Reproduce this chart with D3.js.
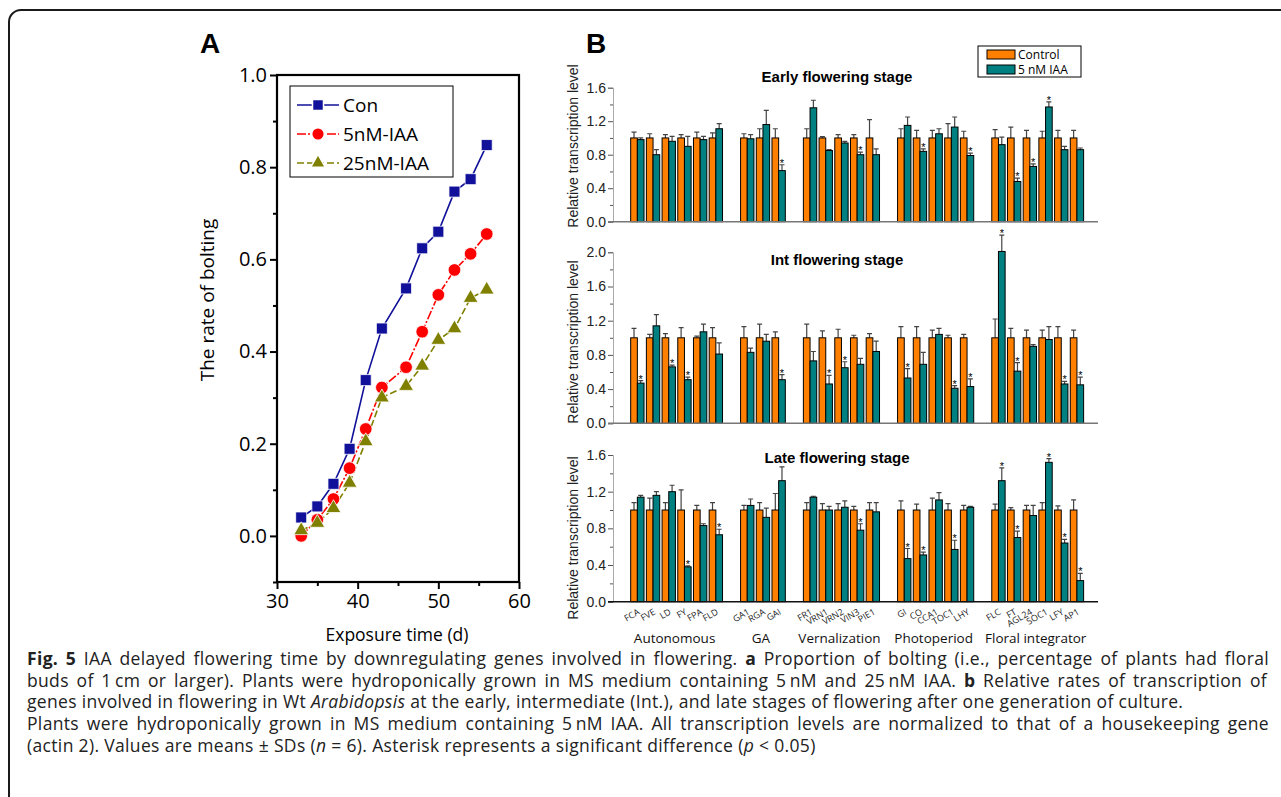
<!DOCTYPE html>
<html>
<head>
<meta charset="utf-8">
<script src="https://cdn.jsdelivr.net/npm/d3@7"></script>
<style>
body { margin: 0; background: #fff; }
svg { display: block; }
</style>
</head>
<body>
<svg id="canvas" width="1281" height="797"></svg>
<script>
// ---- Panel A: rate of bolting ----
const days = [33, 35, 37, 39, 41, 43, 46, 48, 50, 52, 54, 56];
const boltCon = [0.04, 0.064, 0.113, 0.189, 0.338, 0.45, 0.537, 0.624, 0.66, 0.747, 0.774, 0.848];
const bolt5nM = [0.0, 0.035, 0.08, 0.147, 0.232, 0.322, 0.366, 0.443, 0.523, 0.577, 0.612, 0.655];
const bolt25nM = [0.012, 0.028, 0.06, 0.115, 0.205, 0.30, 0.325, 0.369, 0.425, 0.45, 0.516, 0.534];
const seriesNames = ["Con", "5nM-IAA", "25nM-IAA"];

// ---- Panel B: relative transcription ----
const genes = ["FCA", "FVE", "LD", "FY", "FPA", "FLD",
    "GA1", "RGA", "GAI",
    "FR1", "VRN1", "VRN2", "VIN3", "PIE1",
    "GI", "CO", "CCA1", "TOC1", "LHY",
    "FLC", "FT", "AGL24", "SOC1", "LFY", "AP1"];
const pathways = ["Autonomous", "GA", "Vernalization", "Photoperiod", "Floral integrator"];
const pathwayOf = [0, 0, 0, 0, 0, 0, 1, 1, 1, 2, 2, 2, 2, 2, 3, 3, 3, 3, 3, 4, 4, 4, 4, 4, 4];
const stageNames = ["Early flowering stage", "Int flowering stage", "Late flowering stage"];
const legendB = ["Control", "5 nM IAA"];

const earlyIAA = [0.98, 0.80, 0.96, 0.90, 0.98, 1.11, 0.99, 1.16, 0.61, 1.36, 0.85, 0.94, 0.80, 0.80,
    1.15, 0.84, 1.05, 1.13, 0.79, 0.92, 0.48, 0.66, 1.37, 0.86, 0.86];
const earlyIAAErr = [0.02, 0.06, 0.06, 0.12, 0.04, 0.06, 0.05, 0.17, 0.07, 0.09, 0.01, 0.02, 0.03, 0.07,
    0.10, 0.03, 0.06, 0.12, 0.03, 0.09, 0.04, 0.03, 0.06, 0.04, 0.02];
const earlyConErr = [0.07, 0.05, 0.04, 0.04, 0.07, 0.06, 0.05, 0.11, 0.11, 0.11, 0.015, 0.04, 0.04, 0.22,
    0.11, 0.09, 0.09, 0.17, 0.08, 0.10, 0.13, 0.09, 0.08, 0.09, 0.09];
const earlyStar = ["GAI", "VIN3", "CO", "LHY", "FT", "AGL24", "SOC1"];

const intIAA = [0.47, 1.14, 0.66, 0.51, 1.07, 0.81, 0.83, 0.96, 0.51, 0.73, 0.46, 0.65, 0.69, 0.84,
    0.53, 0.69, 1.04, 0.41, 0.43, 2.01, 0.61, 0.90, 0.98, 0.46, 0.45];
const intIAAErr = [0.03, 0.13, 0.02, 0.03, 0.09, 0.13, 0.05, 0.08, 0.06, 0.11, 0.10, 0.07, 0.07, 0.12,
    0.11, 0.14, 0.07, 0.03, 0.09, 0.19, 0.10, 0.02, 0.15, 0.03, 0.09];
const intConErr = [0.11, 0.04, 0.05, 0.12, 0.02, 0.12, 0.13, 0.16, 0.07, 0.16, 0.08, 0.10, 0.03, 0.05,
    0.13, 0.13, 0.09, 0.03, 0.04, 0.22, 0.11, 0.09, 0.09, 0.13, 0.09];
const intStar = ["FCA", "LD", "FY", "GAI", "VRN1", "VRN2", "GI", "TOC1", "LHY", "FLC", "FT", "LFY", "AP1"];

const lateIAA = [1.14, 1.16, 1.20, 0.38, 0.83, 0.73, 1.05, 0.92, 1.32, 1.14, 1.00, 1.03, 0.78, 0.98,
    0.47, 0.51, 1.11, 0.57, 1.03, 1.32, 0.70, 0.94, 1.52, 0.64, 0.23];
const lateIAAErr = [0.02, 0.04, 0.07, 0.01, 0.02, 0.06, 0.07, 0.10, 0.15, 0.01, 0.04, 0.07, 0.07, 0.10,
    0.11, 0.03, 0.08, 0.10, 0.01, 0.14, 0.07, 0.11, 0.04, 0.04, 0.08];
const lateConErr = [0.08, 0.13, 0.08, 0.22, 0.05, 0.08, 0.05, 0.08, 0.18, 0.08, 0.07, 0.07, 0.04, 0.08,
    0.10, 0.065, 0.13, 0.07, 0.05, 0.065, 0.025, 0.05, 0.08, 0.045, 0.11];
const lateStar = ["FY", "FLD", "VIN3", "GI", "CO", "TOC1", "FLC", "FT", "SOC1", "LFY", "AP1"];

const SANS = "'Open Sans', 'DejaVu Sans', sans-serif";
const ARIAL = "'Liberation Sans', Arial, sans-serif";
const ORANGE = "#ff8000";
const TEAL = "#008080";

const svg = d3.select("#canvas");

/**
 * Outer rounded frame, runs off the right and bottom edges.
 */
function drawFrame() {
    svg.append("rect")
        .attr("x", 9).attr("y", 10)
        .attr("width", 1320).attr("height", 830)
        .attr("rx", 12)
        .attr("fill", "none")
        .attr("stroke", "#1a1a1a")
        .attr("stroke-width", 2);
}

/**
 * Panel A: bolting rate line chart.
 */
function drawPanelA() {
    const x = d3.scaleLinear().domain([30, 60]).range([277, 519]);
    const y = d3.scaleLinear().domain([-0.1, 1.0]).range([582, 75]);
    const g = svg.append("g");

    g.append("text").text("A")
        .attr("x", 200).attr("y", 53)
        .attr("font-family", ARIAL).attr("font-weight", "bold").attr("font-size", 28);

    // minor ticks
    g.append("g").attr("transform", "translate(0,582)")
        .call(d3.axisBottom(x).tickValues([35, 45, 55]).tickSize(4).tickFormat(""))
        .call(a => a.select(".domain").remove())
        .selectAll("line").attr("stroke-width", 2);
    g.append("g").attr("transform", "translate(277,0)")
        .call(d3.axisLeft(y).tickValues([-0.1, 0.1, 0.3, 0.5, 0.7, 0.9]).tickSize(4).tickFormat(""))
        .call(a => a.select(".domain").remove())
        .selectAll("line").attr("stroke-width", 2);

    const xAxis = g.append("g").attr("transform", "translate(0,582)")
        .call(d3.axisBottom(x).tickValues([30, 40, 50, 60]).tickSize(7).tickPadding(5).tickFormat(d3.format("d")));
    const yAxis = g.append("g").attr("transform", "translate(277,0)")
        .call(d3.axisLeft(y).tickValues([0, 0.2, 0.4, 0.6, 0.8, 1.0]).tickSize(7).tickPadding(3).tickFormat(d3.format(".1f")));
    [xAxis, yAxis].forEach(a => {
        a.select(".domain").remove();
        a.selectAll("line").attr("stroke-width", 2);
        a.selectAll("text").attr("font-family", SANS).attr("font-size", 20).attr("fill", "#000");
    });

    g.append("rect")
        .attr("x", 277).attr("y", 75).attr("width", 519 - 277).attr("height", 582 - 75)
        .attr("fill", "none").attr("stroke", "#000").attr("stroke-width", 2.2);

    g.append("text").text("Exposure time (d)")
        .attr("x", 397).attr("y", 641).attr("text-anchor", "middle")
        .attr("font-family", SANS).attr("font-size", 17.5);
    g.append("text").text("The rate of bolting")
        .attr("transform", "translate(214,300) rotate(-90)")
        .attr("text-anchor", "middle")
        .attr("font-family", SANS).attr("font-size", 19);

    const series = [
        {values: boltCon, color: "#10109a", dash: null, symbol: d3.symbolSquare, size: 121},
        {values: bolt5nM, color: "#ff0000", dash: "9,2,2,2", symbol: d3.symbolCircle, size: 125},
        {values: bolt25nM, color: "#808000", dash: "7,3", symbol: d3.symbolTriangle, size: 95}
    ];

    const line = d3.line().x((d, i) => x(days[i])).y(d => y(d));
    series.forEach(s => {
        g.append("path")
            .attr("d", line(s.values))
            .attr("fill", "none")
            .attr("stroke", s.color)
            .attr("stroke-width", 1.6)
            .attr("stroke-dasharray", s.dash);
    });
    series.forEach(s => {
        g.selectAll(null)
            .data(s.values)
            .enter()
            .append("path")
            .attr("d", d3.symbol(s.symbol, s.size))
            .attr("transform", (d, i) => "translate(" + x(days[i]) + "," + y(d) + ")")
            .attr("fill", s.color)
            .attr("stroke", "#fff")
            .attr("stroke-width", 0.8);
    });

    // legend
    g.append("rect")
        .attr("x", 290).attr("y", 86).attr("width", 163).attr("height", 91)
        .attr("fill", "#fff").attr("stroke", "#000").attr("stroke-width", 1);
    series.forEach((s, i) => {
        const ly = 105 + i * 29;
        g.append("line")
            .attr("x1", 297).attr("x2", 339).attr("y1", ly).attr("y2", ly)
            .attr("stroke", s.color).attr("stroke-width", 1.6)
            .attr("stroke-dasharray", s.dash);
        g.append("path")
            .attr("d", d3.symbol(s.symbol, s.size))
            .attr("transform", "translate(318," + ly + ")")
            .attr("fill", s.color)
            .attr("stroke", "#fff").attr("stroke-width", 1.5);
        g.append("text").text(seriesNames[i])
            .attr("x", 343).attr("y", ly).attr("dy", "0.36em")
            .attr("font-family", SANS).attr("font-size", 19);
    });
}

// band slots, with an empty slot between pathways
const slots = [];
genes.forEach((gname, i) => {
    if (i > 0 && pathwayOf[i] !== pathwayOf[i - 1]) slots.push("gap" + i);
    slots.push(gname);
});
const xB = d3.scaleBand().domain(slots).range([629.5, 1084.8]).paddingInner(0.15).paddingOuter(0.075);
const barW = xB.bandwidth() / 2;

/**
 * One stage of panel B: paired bars with error bars and significance stars.
 */
function drawStage(cfg) {
    const y = d3.scaleLinear().domain([0, cfg.max]).range([cfg.bottom, cfg.top]);
    const g = svg.append("g");

    g.append("text").text(cfg.title)
        .attr("x", 837).attr("y", cfg.titleY).attr("text-anchor", "middle")
        .attr("font-family", ARIAL).attr("font-weight", "bold").attr("font-size", 15);

    const minor = d3.range(0.2, cfg.max, 0.4);
    g.append("g").attr("transform", "translate(613,0)")
        .call(d3.axisLeft(y).tickValues(minor).tickSize(3).tickFormat(""))
        .call(a => a.select(".domain").remove())
        .selectAll("line").attr("stroke", "#555");
    const ax = g.append("g").attr("transform", "translate(613,0)")
        .call(d3.axisLeft(y).tickValues(d3.range(0, cfg.max + 0.01, 0.4)).tickSize(5).tickPadding(2).tickFormat(d3.format(".1f")));
    ax.select(".domain").attr("stroke", "#aaa");
    ax.selectAll("line").attr("stroke", "#555");
    ax.selectAll("text").attr("font-family", ARIAL).attr("font-size", 14).attr("fill", "#222");

    g.append("text").text("Relative transcription level")
        .attr("transform", "translate(578," + cfg.labelY + ") rotate(-90)")
        .attr("text-anchor", "middle")
        .attr("font-family", ARIAL).attr("font-size", 14).attr("fill", "#222");

    const rows = genes.map((gname, i) => ({gene: gname, iaa: cfg.iaa[i], iaaErr: cfg.iaaErr[i], conErr: cfg.conErr[i]}));

    // error bars (drawn first, bars sit over their lower part)
    const errs = [];
    rows.forEach(r => {
        errs.push({cx: xB(r.gene) + barW / 2, v: 1.0, e: r.conErr});
        errs.push({cx: xB(r.gene) + barW * 1.5, v: r.iaa, e: r.iaaErr});
    });
    g.selectAll(".err").data(errs).enter().append("path")
        .attr("class", "err")
        .attr("d", d => "M" + d.cx + "," + y(d.v) + "V" + y(d.v + d.e) +
            "M" + (d.cx - 2.5) + "," + y(d.v + d.e) + "H" + (d.cx + 2.5))
        .attr("fill", "none").attr("stroke", "#444").attr("stroke-width", 1.2);

    g.selectAll(".con").data(rows).enter().append("rect")
        .attr("class", "con")
        .attr("x", d => xB(d.gene))
        .attr("y", y(1.0))
        .attr("width", barW)
        .attr("height", y(0) - y(1.0))
        .attr("fill", ORANGE).attr("stroke", "#000").attr("stroke-width", 1);
    g.selectAll(".iaa").data(rows).enter().append("rect")
        .attr("class", "iaa")
        .attr("x", d => xB(d.gene) + barW)
        .attr("y", d => y(d.iaa))
        .attr("width", barW)
        .attr("height", d => y(0) - y(d.iaa))
        .attr("fill", TEAL).attr("stroke", "#000").attr("stroke-width", 1);

    g.selectAll(".star").data(rows.filter(r => cfg.stars.includes(r.gene))).enter().append("text")
        .attr("class", "star")
        .text("*")
        .attr("x", d => xB(d.gene) + barW * 1.5)
        .attr("y", d => y(d.iaa + d.iaaErr) + 2)
        .attr("text-anchor", "middle")
        .attr("font-family", ARIAL).attr("font-size", 11);

    g.append("line")
        .attr("x1", 608).attr("x2", 1098)
        .attr("y1", y(0)).attr("y2", y(0))
        .attr("stroke", cfg.last ? "#111" : "#777").attr("stroke-width", 1.5);

    if (cfg.last) {
        g.selectAll(".glabel").data(genes).enter().append("text")
            .attr("class", "glabel")
            .text(d => d)
            .attr("transform", d => "translate(" + (xB(d) + barW + 3) + "," + (y(0) + 12) + ") rotate(-30)")
            .attr("text-anchor", "end")
            .attr("font-family", SANS).attr("font-size", 9).attr("fill", "#222");
        g.selectAll(".plabel").data(pathways).enter().append("text")
            .attr("class", "plabel")
            .text(d => d)
            .attr("x", (d, i) => {
                const members = genes.filter((gn, k) => pathwayOf[k] === i);
                return (xB(members[0]) + xB(members[members.length - 1]) + xB.bandwidth()) / 2 - 2;
            })
            .attr("y", 643)
            .attr("text-anchor", "middle")
            .attr("font-family", SANS).attr("font-size", 13.5).attr("fill", "#111");
    }
}

function drawPanelB() {
    svg.append("text").text("B")
        .attr("x", 586).attr("y", 53)
        .attr("font-family", ARIAL).attr("font-weight", "bold").attr("font-size", 28);

    drawStage({title: stageNames[0], titleY: 82, top: 87.7, bottom: 221.7, max: 1.6, labelY: 146,
        iaa: earlyIAA, iaaErr: earlyIAAErr, conErr: earlyConErr, stars: earlyStar});
    drawStage({title: stageNames[1], titleY: 265, top: 252.3, bottom: 423.3, max: 2.0, labelY: 342,
        iaa: intIAA, iaaErr: intIAAErr, conErr: intConErr, stars: intStar});
    drawStage({title: stageNames[2], titleY: 463, top: 455, bottom: 601.7, max: 1.6, labelY: 538,
        iaa: lateIAA, iaaErr: lateIAAErr, conErr: lateConErr, stars: lateStar, last: true});

    // legend
    const lg = svg.append("g");
    lg.append("rect")
        .attr("x", 978).attr("y", 46).attr("width", 103).attr("height", 31)
        .attr("fill", "#fff").attr("stroke", "#000").attr("stroke-width", 1);
    [ORANGE, TEAL].forEach((c, i) => {
        lg.append("rect")
            .attr("x", 987).attr("y", 50 + i * 15).attr("width", 28).attr("height", 9)
            .attr("fill", c).attr("stroke", "#000").attr("stroke-width", 1);
        lg.append("text").text(legendB[i])
            .attr("x", 1018).attr("y", 54.5 + i * 15).attr("dy", "0.36em")
            .attr("font-family", SANS).attr("font-size", 12);
    });
}

/**
 * Figure caption; full lines are justified by widening the word gaps.
 */
function drawCaption() {
    const lines = [
        {parts: [["Fig. 5", "b"], [" IAA delayed flowering time by downregulating genes involved in flowering. "], ["a", "b"],
            [" Proportion of bolting (i.e., percentage of plants had floral"]], w: 1242},
        {parts: [["buds of 1\u2009cm or larger). Plants were hydroponically grown in MS medium containing 5\u2009nM and 25\u2009nM IAA. "], ["b", "b"],
            [" Relative rates of transcription of"]], w: 1240},
        {parts: [["genes involved in flowering in Wt "], ["Arabidopsis", "i"],
            [" at the early, intermediate (Int.), and late stages of flowering after one generation of culture."]], w: null},
        {parts: [["Plants were hydroponically grown in MS medium containing 5\u2009nM IAA. All transcription levels are normalized to that of a housekeeping gene"]], w: 1242},
        {parts: [["(actin 2). Values are means \u00b1 SDs ("], ["n", "i"], [" = 6). Asterisk represents a significant difference ("],
            ["p", "i"], [" < 0.05)"]], w: null}
    ];
    const texts = lines.map((ln, i) => {
        const t = svg.append("text")
            .attr("x", 27).attr("y", 665 + i * 21.7)
            .attr("font-family", SANS).attr("font-size", 17.5).attr("fill", "#222");
        ln.parts.forEach(p => {
            t.append("tspan").text(p[0])
                .attr("font-weight", p[1] === "b" ? "bold" : null)
                .attr("font-style", p[1] === "i" ? "italic" : null);
        });
        return t;
    });
    // letter spacing chosen so the two ragged lines together span what they span in the figure
    const nat = texts[2].node().getComputedTextLength() + texts[4].node().getComputedTextLength();
    const chars = texts[2].text().length + texts[4].text().length;
    const ls = (1085 + 860 - nat) / chars;
    texts.forEach(t => t.attr("letter-spacing", ls));
    texts.forEach((t, i) => {
        if (!lines[i].w) return;
        const len = t.node().getComputedTextLength();
        const gaps = t.text().split(" ").length - 1;
        t.attr("word-spacing", (lines[i].w - len) / gaps);
    });
}

drawFrame();
drawPanelA();
drawPanelB();
drawCaption();
</script>
</body>
</html>
